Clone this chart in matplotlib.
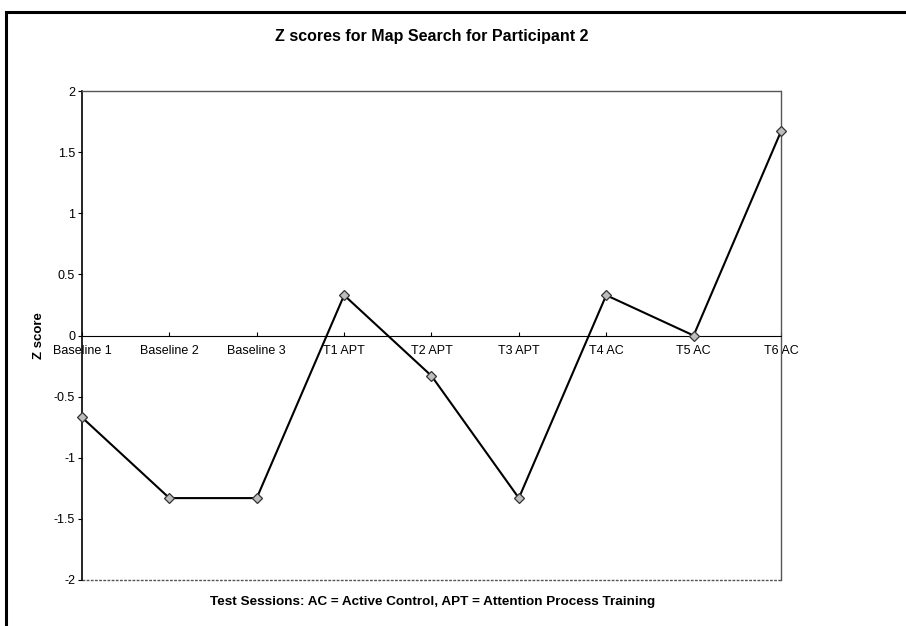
import numpy as np
import matplotlib.pyplot as plt
from matplotlib.patches import Rectangle

plt.rcParams['font.family'] = ['Liberation Sans', 'DejaVu Sans']

# data
sessions = ['Baseline 1', 'Baseline 2', 'Baseline 3', 'T1 APT', 'T2 APT',
            'T3 APT', 'T4 AC', 'T5 AC', 'T6 AC']
z_scores = [-0.67, -1.33, -1.33, 0.33, -0.33, -1.33, 0.33, 0.0, 1.67]
y_ticks = [-2, -1.5, -1, -0.5, 0, 0.5, 1, 1.5, 2]

fig = plt.figure(figsize=(9.06, 6.26), dpi=100)
ax = fig.add_axes([0.0905, 0.0735, 0.7715, 0.781])

x = np.arange(len(sessions))
ax.plot(x, z_scores, color='black', lw=1.5, marker='D', ms=5,
        mfc='#bdbdbd', mec='#333333', mew=0.9, zorder=3, clip_on=False)

ax.set_xlim(0, len(sessions) - 1)
ax.set_ylim(-2, 2)
ax.set_yticks(y_ticks)
ax.set_yticklabels([f'{v:g}' for v in y_ticks], fontsize=9)
ax.tick_params(axis='y', direction='out', length=3, width=0.8, pad=2)

# category axis crosses at zero
ax.spines['bottom'].set_position(('data', 0))
ax.spines['bottom'].set_linestyle((0, (5, 1)))
ax.spines['bottom'].set_linewidth(0.8)
ax.set_xticks(x)
ax.set_xticklabels(sessions, fontsize=9)
ax.tick_params(axis='x', direction='in', length=3, width=0.8, pad=7)

# dotted plot-area border
for side in ['top', 'right']:
    ax.spines[side].set_linestyle((0, (2, 1)))
    ax.spines[side].set_color('#555555')
    ax.spines[side].set_linewidth(1.0)
ax.axhline(-2, color='#555555', lw=1.0, ls=(0, (2, 1)), clip_on=False)
ax.spines['left'].set_linewidth(1.2)

ax.set_title('Z scores for Map Search for Participant 2', fontsize=11.5,
             fontweight='bold', pad=36)
ax.set_ylabel('Z score', fontsize=9.5, fontweight='bold', labelpad=6)
fig.text(0.477, 0.038, 'Test Sessions: AC = Active Control, APT = Attention Process Training',
         ha='center', va='center', fontsize=9.7, fontweight='bold')

# outer chart frame
fig.patches.append(Rectangle((0.007, -0.05), 1.2, 1.031, transform=fig.transFigure,
                             fill=False, edgecolor='black', lw=2.2))

fig.savefig('out.png', dpi=100)
